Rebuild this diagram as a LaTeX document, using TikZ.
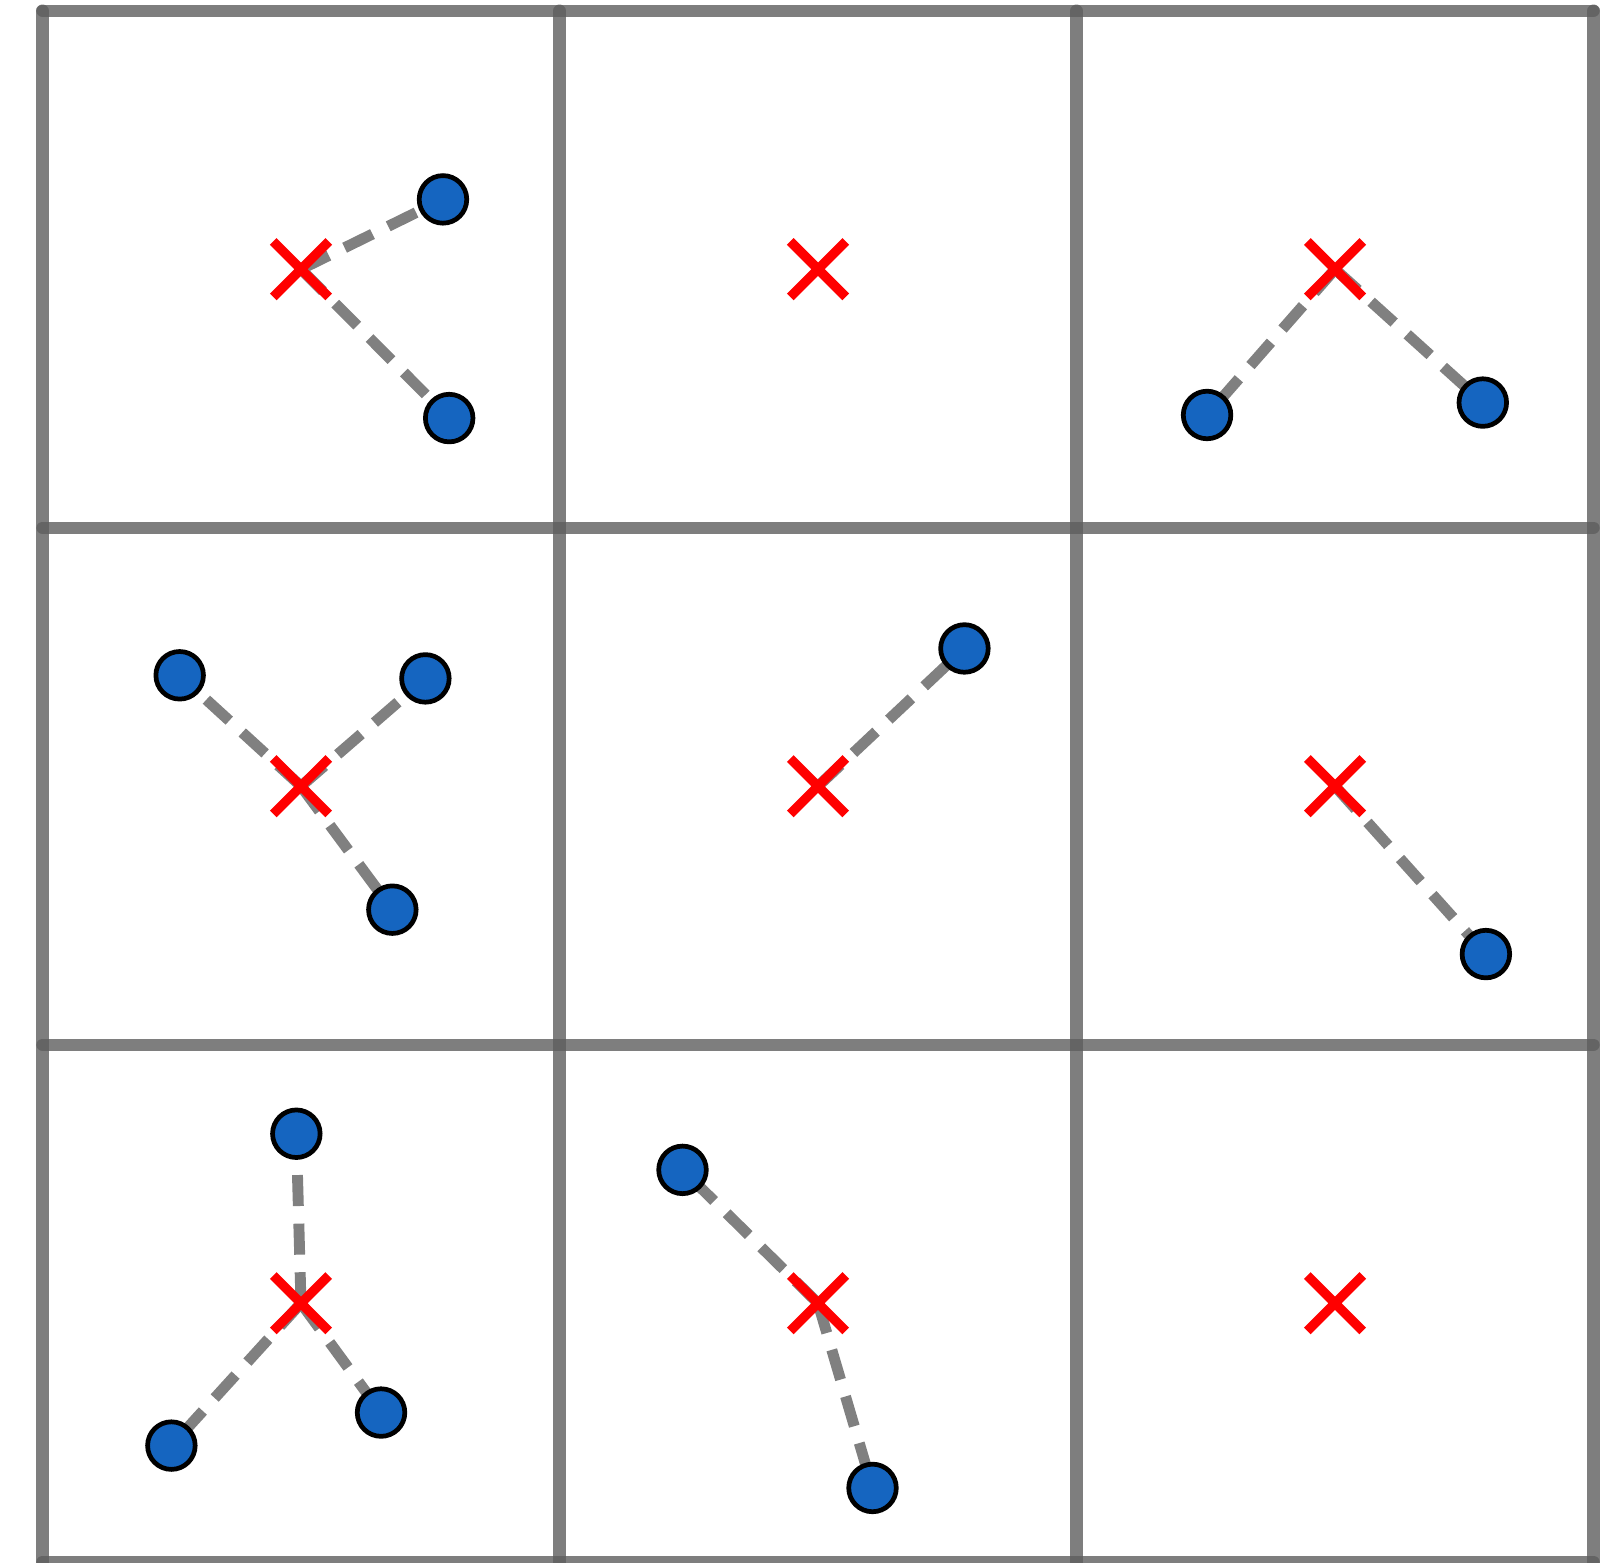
\documentclass[tikz,border=0pt]{standalone}
\usepackage{tikz}
\usetikzlibrary{shapes.misc,backgrounds}
\definecolor{ptblue}{HTML}{1565C0}
\tikzset{
  gridline/.style={draw=black!63, draw opacity=0.8, line width=3.4pt, line cap=round},
  link/.style={draw=black!50, line width=3pt, dash pattern=on 0.3cm off 0.17cm},
  centre/.style={cross out, draw=red, line width=2.6pt, minimum size=0.445cm, inner sep=0pt},
  pt/.style={circle, draw=black, fill=ptblue, line width=1.3pt, minimum size=0.46cm, inner sep=0pt}
}

\begin{document}
\begin{tikzpicture}[x=5cm, y=5cm]
  \useasboundingbox (-0.0822,-0.0019) rectangle (3.0493,3.0207);
  % cluster centres
  \foreach \n/\x/\y in {tl/0.5/2.5, tm/1.5/2.5, tr/2.5/2.5,
                        ml/0.5/1.5, mm/1.5/1.5, mr/2.5/1.5,
                        bl/0.5/0.5, bm/1.5/0.5, br/2.5/0.5}
    \node[centre] (\n) at (\x,\y) {};
  % data points
  \foreach \n/\x/\y in {tla/0.7746/2.635, tlb/0.7866/2.212,
                        tra/2.2525/2.218, trb/2.7858/2.242,
                        mla/0.2653/1.7145, mlb/0.7406/1.7085, mlc/0.6767/1.2612,
                        mma/1.7832/1.7664,
                        mra/2.7918/1.1753,
                        bla/0.4910/0.8278, blb/0.2493/0.2246, blc/0.6548/0.2885,
                        bma/1.2379/0.7579, bmb/1.6054/0.1427}
    \node[pt] (\n) at (\x,\y) {};
  \begin{scope}[on background layer]
    % grid
    \foreach \i in {0,...,3} {
      \draw[gridline] (\i,0) -- (\i,3);
      \draw[gridline] (0,\i) -- (3,\i);
    }
    % assignments
    \foreach \a/\b in {tl/tla, tl/tlb, tr/tra, tr/trb,
                       ml/mla, ml/mlb, ml/mlc, mm/mma, mr/mra,
                       bl/bla, bl/blb, bl/blc, bm/bma, bm/bmb}
      \draw[link] (\a.center) -- (\b.center);
  \end{scope}
\end{tikzpicture}
\end{document}
